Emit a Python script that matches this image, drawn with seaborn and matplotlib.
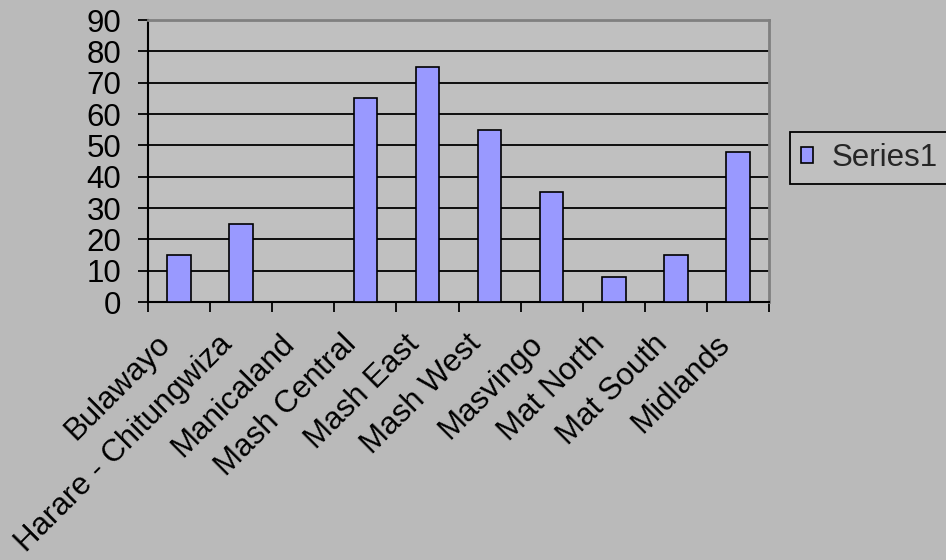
import matplotlib
matplotlib.use("Agg")
import matplotlib.pyplot as plt
import matplotlib.transforms as mtransforms
import seaborn as sns
import pandas as pd

regions = ["Bulawayo", "Harare - Chitungwiza", "Manicaland", "Mash Central",
           "Mash East", "Mash West", "Masvingo", "Mat North", "Mat South", "Midlands"]
series1 = [15, 25, 0, 65, 75, 55, 35, 8, 15, 48]
series_name = "Series1"
y_ticks = [0, 10, 20, 30, 40, 50, 60, 70, 80, 90]

sns.set_theme(style="white")
plt.rcParams["font.family"] = ["Liberation Sans", "DejaVu Sans"]

FS = 22.5
fig = plt.figure(figsize=(9.46, 5.6), dpi=100, facecolor="#BABABA")
ax = fig.add_axes([148 / 946, 1 - 302 / 560, (769 - 148) / 946, (302 - 20) / 560])
ax.set_facecolor("#C0C0C0")

df = pd.DataFrame({"region": regions, "value": series1})
sns.barplot(data=df, x="region", y="value", color="#9999FF", saturation=1,
            edgecolor="black", linewidth=1.2, width=0.38, ax=ax,
            label=series_name, zorder=3)

ax.set_xlim(-0.5, len(regions) - 0.5)
ax.set_ylim(0, 90)
ax.set_yticks(y_ticks)
ax.set_yticklabels([str(t) for t in y_ticks], fontsize=FS, color="black")
ax.yaxis.grid(True, color="black", linewidth=1.3, zorder=1)
ax.set_axisbelow(True)
ax.set_xlabel("")
ax.set_ylabel("")

# category labels on the major ticks, tick marks between categories
ax.set_xticks(range(len(regions)))
ax.set_xticklabels(regions, fontsize=FS, rotation=45, ha="right", va="center",
                   rotation_mode="anchor", color="black")
ax.tick_params(axis="x", which="major", length=0, pad=27)
ax.set_xticks([i - 0.5 for i in range(len(regions) + 1)], minor=True)
ax.tick_params(axis="x", which="minor", length=7.2, width=1.3, color="black",
               direction="out", bottom=True)
ax.tick_params(axis="y", length=7.2, width=1.3, color="black", direction="out",
               left=True, pad=12)
shift = mtransforms.ScaledTranslation(-13 / 100, 0, fig.dpi_scale_trans)
for lbl in ax.get_xticklabels():
    lbl.set_transform(lbl.get_transform() + shift)

for side in ("left", "bottom"):
    ax.spines[side].set_color("black")
    ax.spines[side].set_linewidth(1.5)
for side in ("top", "right"):
    ax.spines[side].set_color("#808080")
    ax.spines[side].set_linewidth(2)

leg = ax.legend(loc="center left", bbox_to_anchor=(790 / 946, 1 - 158 / 560),
                bbox_transform=fig.transFigure, fontsize=FS, frameon=True,
                fancybox=False, handlelength=0.4, handleheight=0.4,
                handletextpad=0.6, borderpad=0.34, borderaxespad=0)
frame = leg.get_frame()
frame.set_facecolor("#C0C0C0")
frame.set_edgecolor("black")
frame.set_linewidth(1.3)
frame.set_alpha(1)

fig.savefig("out.png", dpi=100, facecolor=fig.get_facecolor())
